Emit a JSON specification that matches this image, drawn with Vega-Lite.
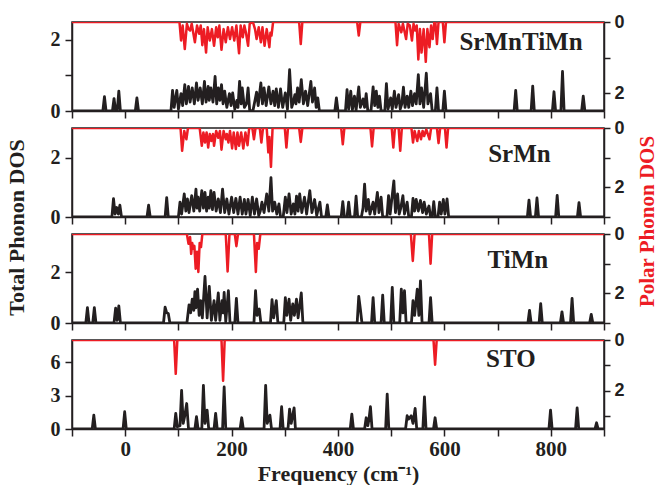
{
"$schema": "https://vega.github.io/schema/vega-lite/v6.json",
"background": "white",
"padding": {"left": 4, "top": 12, "right": 0, "bottom": 0},
"spacing": 17,
"bounds": "flush",
"config": {
  "view": {"stroke": "#231f20", "strokeWidth": 1.5},
  "axis": {"domainColor": "#231f20", "domainWidth": 1.5, "tickColor": "#231f20", "tickWidth": 1.5, "tickSize": 7, "grid": false,
    "labelFont": "Liberation Serif", "labelFontWeight": "bold", "labelFontSize": 20, "labelColor": "#231f20", "labelPadding": 5,
    "labelOverlap": false, "labelFlush": false, "labelBound": false,
    "titleFont": "Liberation Serif", "titleFontWeight": "bold", "titleFontSize": 22, "titleColor": "#231f20"},
  "line": {"strokeJoin": "round"}
},
"vconcat": [
{
  "width": 532, "height": 89,
  "resolve": {"scale": {"y": "independent"}},
  "layer": [
    {"layer": [
      {"data": {"values": [
        {"f":-100,"v":0},{"f":-42,"v":0},{"f":-39,"v":0.4},{"f":-36,"v":0},{"f":-24,"v":0},{"f":-21,"v":0.35},{"f":-18,"v":0},{"f":-15,"v":0},{"f":-12,"v":0.56},{"f":-9,"v":0},{"f":19,"v":0},{"f":22,"v":0.37},{"f":25,"v":0},
        {"f":86,"v":0},{"f":89,"v":0.58},{"f":92,"v":0.1},{"f":97,"v":0.58},{"f":100,"v":0.05},{"f":105,"v":0.49},{"f":108,"v":0.15},{"f":112,"v":0.74},{"f":115,"v":0.2},{"f":119,"v":0.69},{"f":122,"v":0.25},{"f":126,"v":0.65},{"f":130,"v":0.2},{"f":134,"v":0.79},{"f":137,"v":0.3},{"f":141,"v":0.65},{"f":145,"v":0.2},{"f":149,"v":0.83},{"f":152,"v":0.25},{"f":156,"v":0.69},{"f":158,"v":0.3},{"f":161,"v":0.65},{"f":165,"v":0.25},{"f":169,"v":0.97},{"f":172,"v":0.2},{"f":175,"v":0.65},{"f":178,"v":0.3},{"f":181,"v":0.74},{"f":184,"v":0.2},{"f":187,"v":0.56},{"f":191,"v":0.1},{"f":196,"v":0.49},{"f":199,"v":0.15},{"f":202,"v":0.51},{"f":206,"v":0.05},{"f":210,"v":0.3},{"f":212,"v":0.1},{"f":215,"v":0.83},{"f":218,"v":0.2},{"f":220,"v":0.65},{"f":224,"v":0.1},{"f":228,"v":0.2},{"f":231,"v":0.65},{"f":234,"v":0.02},{"f":240,"v":0},{"f":244,"v":0.3},{"f":247,"v":0.53},{"f":250,"v":0.15},{"f":255,"v":0.79},{"f":258,"v":0.2},{"f":261,"v":0.65},{"f":265,"v":0.15},{"f":270,"v":0.68},{"f":274,"v":0.2},{"f":278,"v":0.56},{"f":281,"v":0.15},{"f":284,"v":0.62},{"f":288,"v":0.1},{"f":292,"v":0.62},{"f":296,"v":0.1},{"f":301,"v":0.51},{"f":305,"v":0.05},{"f":309,"v":1.16},{"f":313,"v":0.1},{"f":316,"v":0.25},{"f":319,"v":0.46},{"f":321,"v":0.2},{"f":324,"v":0.65},{"f":327,"v":0.25},{"f":331,"v":0.88},{"f":335,"v":0.2},{"f":339,"v":0.56},{"f":343,"v":0.15},{"f":349,"v":0.83},{"f":352,"v":0.25},{"f":356,"v":0.65},{"f":359,"v":0.1},{"f":362,"v":0.37},{"f":365,"v":0},
        {"f":394,"v":0},{"f":397,"v":0.37},{"f":400,"v":0},
        {"f":414,"v":0},{"f":417,"v":0.6},{"f":420,"v":0.05},{"f":424,"v":0.56},{"f":427,"v":0.03},{"f":431,"v":0.42},{"f":434,"v":0.02},{"f":439,"v":0.68},{"f":442,"v":0.1},{"f":447,"v":0.34},{"f":450,"v":0.1},{"f":453,"v":0.49},{"f":456,"v":0},{"f":462,"v":0},{"f":466,"v":0.68},{"f":469,"v":0.15},{"f":472,"v":0.56},{"f":475,"v":0.1},{"f":478,"v":0.42},{"f":481,"v":0},{"f":488,"v":0},{"f":491,"v":0.77},{"f":494,"v":0.05},{"f":499,"v":0.37},{"f":502,"v":0.05},{"f":506,"v":0.56},{"f":509,"v":0.1},{"f":514,"v":0.46},{"f":517,"v":0.05},{"f":520,"v":0.2},{"f":523,"v":0.67},{"f":526,"v":0.1},{"f":530,"v":0.42},{"f":533,"v":0.1},{"f":537,"v":0.56},{"f":540,"v":0.15},{"f":544,"v":0.49},{"f":547,"v":0.2},{"f":551,"v":1.02},{"f":554,"v":0.2},{"f":557,"v":0.65},{"f":561,"v":0.1},{"f":566,"v":1.06},{"f":569,"v":0.2},{"f":574,"v":0.49},{"f":577,"v":0},{"f":583,"v":0},{"f":586,"v":0.65},{"f":589,"v":0},{"f":597,"v":0},{"f":600,"v":0.56},{"f":603,"v":0},
        {"f":731,"v":0},{"f":734,"v":0.58},{"f":737,"v":0},{"f":763,"v":0},{"f":766,"v":0.7},{"f":769,"v":0},{"f":803,"v":0},{"f":806,"v":0.54},{"f":809,"v":0},{"f":819,"v":0},{"f":822,"v":1.11},{"f":825,"v":0},{"f":858,"v":0},{"f":861,"v":0.42},{"f":864,"v":0},{"f":900,"v":0}
      ]},
      "mark": {"type": "line", "color": "#231f20", "strokeWidth": 2.8, "clip": true},
      "encoding": {
        "x": {"field": "f", "type": "quantitative", "scale": {"domain": [-100, 900], "nice": false, "zero": false}, "axis": {"values": [-100,0,100,200,300,400,500,600,700,800,900], "labels": false, "title": null}},
        "y": {"field": "v", "type": "quantitative", "scale": {"domain": [0, 2.5], "nice": false}, "axis": {"values": [0,1,2], "labelExpr": "datum.value === 0 || datum.value === 2 ? datum.label : ''", "title": null}}
      }},
      {"data": {"values": [{"name": "SrMnTiMn"}]},
       "mark": {"type": "text", "font": "Liberation Serif", "fontWeight": "bold", "fontSize": 25, "color": "#231f20", "align": "center", "baseline": "middle"},
       "encoding": {"x": {"datum": 744, "type": "quantitative"}, "y": {"datum": 1.94, "type": "quantitative"}, "text": {"field": "name"}}}
    ]},
    {"data": {"values": [
      {"f":-100,"v":0},{"f":102,"v":0},{"f":105,"v":0.52},{"f":108,"v":0.1},{"f":112,"v":0.76},{"f":116,"v":0.05},{"f":119,"v":0.2},{"f":122,"v":0.24},{"f":125,"v":0.05},{"f":131,"v":0.57},{"f":135,"v":0.1},{"f":139,"v":0.33},{"f":142,"v":0.1},{"f":145,"v":0.65},{"f":148,"v":0.2},{"f":152,"v":0.86},{"f":155,"v":0.15},{"f":159,"v":0.52},{"f":163,"v":0.2},{"f":167,"v":0.67},{"f":171,"v":0.15},{"f":174,"v":0.43},{"f":177,"v":0.1},{"f":181,"v":0.78},{"f":185,"v":0.2},{"f":189,"v":0.57},{"f":193,"v":0.15},{"f":197,"v":0.48},{"f":201,"v":0.15},{"f":205,"v":0.52},{"f":209,"v":0.1},{"f":214,"v":0.88},{"f":217,"v":0.1},{"f":221,"v":0.43},{"f":224,"v":0.1},{"f":227,"v":0.3},{"f":231,"v":0.67},{"f":234,"v":0.05},{"f":240,"v":0},{"f":244,"v":0.2},{"f":247,"v":0.48},{"f":251,"v":0.15},{"f":255,"v":0.57},{"f":258,"v":0.15},{"f":262,"v":0.67},{"f":266,"v":0.2},{"f":271,"v":0.71},{"f":273,"v":0.3},{"f":275,"v":0.38},{"f":278,"v":0},{"f":327,"v":0},{"f":330,"v":0.62},{"f":333,"v":0},{"f":436,"v":0},{"f":439,"v":0.38},{"f":442,"v":0},{"f":508,"v":0},{"f":511,"v":0.65},{"f":514,"v":0.05},{"f":519,"v":0.29},{"f":522,"v":0.05},{"f":528,"v":0.48},{"f":531,"v":0.05},{"f":535,"v":0.1},{"f":539,"v":0.52},{"f":542,"v":0.05},{"f":545,"v":0.24},{"f":548,"v":0.1},{"f":551,"v":1.05},{"f":554,"v":0.2},{"f":557,"v":0.86},{"f":561,"v":0.2},{"f":565,"v":1.12},{"f":568,"v":0.2},{"f":572,"v":0.71},{"f":575,"v":0.1},{"f":578,"v":0.48},{"f":581,"v":0},{"f":583,"v":0},{"f":586,"v":0.62},{"f":589,"v":0},{"f":597,"v":0},{"f":600,"v":0.57},{"f":603,"v":0},{"f":900,"v":0}
    ]},
    "mark": {"type": "line", "color": "#ed1c24", "strokeWidth": 2.5, "clip": true},
    "encoding": {
      "x": {"field": "f", "type": "quantitative", "scale": {"domain": [-100, 900], "nice": false, "zero": false}, "axis": {"values": [-100,0,100,200,300,400,500,600,700,800,900], "labels": false, "title": null}},
      "y": {"field": "v", "type": "quantitative", "scale": {"domain": [0, 2.5], "nice": false, "reverse": true}, "axis": {"orient": "right", "values": [0,1,2], "labelExpr": "datum.value === 0 || datum.value === 2 ? datum.label : ''", "title": null, "labelFont": "Liberation Sans", "labelFontSize": 18, "tickSize": 6, "labelPadding": 4}}
    }}
  ]
},
{
  "width": 532, "height": 89,
  "resolve": {"scale": {"y": "independent"}},
  "layer": [
    {"layer": [
      {"data": {"values": [
        {"f":-100,"v":0},{"f":-25,"v":0},{"f":-22,"v":0.62},{"f":-19,"v":0.1},{"f":-16,"v":0.32},{"f":-13,"v":0.1},{"f":-10,"v":0.4},{"f":-7,"v":0},{"f":41,"v":0},{"f":44,"v":0.4},{"f":47,"v":0},{"f":75,"v":0},{"f":78,"v":0.65},{"f":81,"v":0},
        {"f":100,"v":0},{"f":103,"v":0.5},{"f":106,"v":0.1},{"f":111,"v":0.78},{"f":114,"v":0.2},{"f":117,"v":0.61},{"f":120,"v":0.15},{"f":125,"v":0.72},{"f":129,"v":0.2},{"f":133,"v":0.94},{"f":135,"v":0.3},{"f":137,"v":0.67},{"f":140,"v":0.2},{"f":144,"v":0.89},{"f":147,"v":0.3},{"f":150,"v":0.83},{"f":153,"v":0.2},{"f":156,"v":0.67},{"f":158,"v":0.3},{"f":161,"v":0.89},{"f":164,"v":0.25},{"f":167,"v":0.83},{"f":171,"v":0.2},{"f":175,"v":0.61},{"f":179,"v":0.15},{"f":183,"v":0.94},{"f":187,"v":0.15},{"f":191,"v":0.61},{"f":195,"v":0.1},{"f":200,"v":0.67},{"f":204,"v":0.15},{"f":208,"v":0.63},{"f":212,"v":0.1},{"f":216,"v":0.67},{"f":220,"v":0.1},{"f":224,"v":0.59},{"f":227,"v":0.1},{"f":231,"v":0.59},{"f":235,"v":0.05},{"f":239,"v":0.67},{"f":243,"v":0.1},{"f":247,"v":0.61},{"f":251,"v":0.05},{"f":254,"v":0.2},{"f":257,"v":0.5},{"f":261,"v":0.15},{"f":266,"v":0.78},{"f":270,"v":0.2},{"f":274,"v":1.33},{"f":277,"v":0.2},{"f":281,"v":0.5},{"f":285,"v":0.1},{"f":289,"v":0.44},{"f":292,"v":0},{"f":297,"v":0},{"f":301,"v":0.67},{"f":304,"v":0.15},{"f":308,"v":0.78},{"f":312,"v":0.1},{"f":316,"v":0.44},{"f":319,"v":0.1},{"f":322,"v":0.7},{"f":325,"v":0.2},{"f":328,"v":0.78},{"f":332,"v":0.15},{"f":337,"v":0.67},{"f":341,"v":0.1},{"f":347,"v":0.89},{"f":351,"v":0.15},{"f":356,"v":0.59},{"f":360,"v":0.05},{"f":366,"v":0.5},{"f":369,"v":0},{"f":377,"v":0},{"f":380,"v":0.41},{"f":383,"v":0},
        {"f":406,"v":0},{"f":409,"v":0.52},{"f":412,"v":0},{"f":417,"v":0},{"f":420,"v":0.5},{"f":423,"v":0},{"f":431,"v":0},{"f":434,"v":0.7},{"f":437,"v":0},{"f":444,"v":0},{"f":447,"v":0.3},{"f":450,"v":1.11},{"f":453,"v":0.2},{"f":457,"v":0.59},{"f":460,"v":0.1},{"f":466,"v":0.5},{"f":469,"v":0.1},{"f":474,"v":0.83},{"f":477,"v":0.15},{"f":481,"v":0.67},{"f":484,"v":0},{"f":492,"v":0},{"f":495,"v":0.72},{"f":498,"v":0.1},{"f":505,"v":1.22},{"f":508,"v":0.15},{"f":512,"v":0.78},{"f":515,"v":0.1},{"f":518,"v":0.3},{"f":522,"v":0.72},{"f":525,"v":0.1},{"f":530,"v":0.5},{"f":533,"v":0},{"f":538,"v":0},{"f":541,"v":0.63},{"f":544,"v":0.2},{"f":547,"v":0.59},{"f":551,"v":0.2},{"f":555,"v":0.56},{"f":559,"v":0.15},{"f":562,"v":0.5},{"f":566,"v":0.1},{"f":571,"v":0.37},{"f":574,"v":0},{"f":577,"v":0},{"f":580,"v":0.52},{"f":583,"v":0},{"f":588,"v":0},{"f":591,"v":0.5},{"f":594,"v":0.1},{"f":598,"v":0.59},{"f":601,"v":0.1},{"f":605,"v":0.61},{"f":608,"v":0},
        {"f":756,"v":0},{"f":759,"v":0.57},{"f":762,"v":0},{"f":771,"v":0},{"f":774,"v":0.64},{"f":777,"v":0},{"f":809,"v":0},{"f":812,"v":0.73},{"f":815,"v":0},{"f":850,"v":0},{"f":853,"v":0.48},{"f":856,"v":0},{"f":900,"v":0}
      ]},
      "mark": {"type": "line", "color": "#231f20", "strokeWidth": 2.8, "clip": true},
      "encoding": {
        "x": {"field": "f", "type": "quantitative", "scale": {"domain": [-100, 900], "nice": false, "zero": false}, "axis": {"values": [-100,0,100,200,300,400,500,600,700,800,900], "labels": false, "title": null}},
        "y": {"field": "v", "type": "quantitative", "scale": {"domain": [0, 3], "nice": false}, "axis": {"values": [0,2], "title": "Total Phonon DOS", "titleY": 99, "titleX": -44}}
      }},
      {"data": {"values": [{"name": "SrMn"}]},
       "mark": {"type": "text", "font": "Liberation Serif", "fontWeight": "bold", "fontSize": 25, "color": "#231f20", "align": "center", "baseline": "middle"},
       "encoding": {"x": {"datum": 741, "type": "quantitative"}, "y": {"datum": 2.13, "type": "quantitative"}, "text": {"field": "name"}}}
    ]},
    {"data": {"values": [
      {"f":-100,"v":0},{"f":104,"v":0},{"f":107,"v":0.77},{"f":111,"v":0.1},{"f":115,"v":0.38},{"f":118,"v":0},{"f":140,"v":0},{"f":144,"v":0.6},{"f":147,"v":0.15},{"f":150,"v":0.49},{"f":153,"v":0.15},{"f":156,"v":0.66},{"f":159,"v":0.2},{"f":162,"v":0.44},{"f":165,"v":0.2},{"f":167,"v":0.6},{"f":171,"v":0.1},{"f":175,"v":0.33},{"f":178,"v":0.1},{"f":181,"v":0.73},{"f":185,"v":0.1},{"f":189,"v":0.38},{"f":191,"v":0.2},{"f":194,"v":0.49},{"f":197,"v":0.1},{"f":201,"v":0.69},{"f":204,"v":0.15},{"f":208,"v":0.71},{"f":211,"v":0.15},{"f":214,"v":0.6},{"f":218,"v":0.15},{"f":222,"v":0.69},{"f":226,"v":0.15},{"f":230,"v":0.58},{"f":233,"v":0},{"f":239,"v":0},{"f":242,"v":0.38},{"f":245,"v":0},{"f":253,"v":0},{"f":256,"v":0.49},{"f":259,"v":0},{"f":266,"v":0},{"f":269,"v":0.82},{"f":271,"v":0.3},{"f":274,"v":1.31},{"f":277,"v":0},{"f":300,"v":0},{"f":303,"v":0.66},{"f":306,"v":0},{"f":327,"v":0},{"f":330,"v":0.47},{"f":333,"v":0},{"f":406,"v":0},{"f":409,"v":0.55},{"f":412,"v":0},{"f":461,"v":0},{"f":464,"v":0.62},{"f":467,"v":0},{"f":501,"v":0},{"f":504,"v":0.66},{"f":507,"v":0},{"f":514,"v":0},{"f":517,"v":0.77},{"f":520,"v":0},{"f":538,"v":0},{"f":541,"v":0.49},{"f":544,"v":0.1},{"f":549,"v":0.44},{"f":552,"v":0.1},{"f":556,"v":0.38},{"f":559,"v":0.1},{"f":562,"v":0.27},{"f":566,"v":0.05},{"f":572,"v":0.38},{"f":575,"v":0},{"f":586,"v":0},{"f":589,"v":0.51},{"f":592,"v":0},{"f":601,"v":0},{"f":604,"v":0.66},{"f":607,"v":0},{"f":900,"v":0}
    ]},
    "mark": {"type": "line", "color": "#ed1c24", "strokeWidth": 2.5, "clip": true},
    "encoding": {
      "x": {"field": "f", "type": "quantitative", "scale": {"domain": [-100, 900], "nice": false, "zero": false}, "axis": {"values": [-100,0,100,200,300,400,500,600,700,800,900], "labels": false, "title": null}},
      "y": {"field": "v", "type": "quantitative", "scale": {"domain": [0, 3], "nice": false, "reverse": true}, "axis": {"orient": "right", "values": [0,1,2,3], "labelExpr": "datum.value === 0 || datum.value === 2 ? datum.label : ''", "title": "Polar Phonon DOS", "titleColor": "#ed1c24", "titleY": 93, "titleAngle": 270, "titleBaseline": "top", "titleFontSize": 21, "titlePadding": 12, "labelFont": "Liberation Sans", "labelFontSize": 18, "tickSize": 6, "labelPadding": 4}}
    }}
  ]
},
{
  "width": 532, "height": 89,
  "resolve": {"scale": {"y": "independent"}},
  "layer": [
    {"layer": [
      {"data": {"values": [
        {"f":-100,"v":0},{"f":-74,"v":0},{"f":-71,"v":0.6},{"f":-68,"v":0},{"f":-61,"v":0},{"f":-58,"v":0.6},{"f":-55,"v":0},{"f":-21,"v":0},{"f":-18,"v":0.58},{"f":-15,"v":0.1},{"f":-12,"v":0.67},{"f":-9,"v":0},{"f":72,"v":0},{"f":75,"v":0.62},{"f":78,"v":0.4},{"f":81,"v":0.37},{"f":84,"v":0},
        {"f":116,"v":0},{"f":120,"v":0.71},{"f":123,"v":0.4},{"f":126,"v":0.94},{"f":129,"v":0.5},{"f":131,"v":1.23},{"f":133,"v":0.6},{"f":136,"v":1.33},{"f":139,"v":0.3},{"f":142,"v":0.88},{"f":145,"v":0.2},{"f":150,"v":1.83},{"f":154,"v":0.2},{"f":158,"v":1.44},{"f":162,"v":0.1},{"f":167,"v":0.88},{"f":170,"v":0.1},{"f":175,"v":1.18},{"f":178,"v":0.1},{"f":182,"v":0.88},{"f":184,"v":0.4},{"f":186,"v":1.2},{"f":189,"v":0.05},{"f":194,"v":1.27},{"f":197,"v":0},{"f":206,"v":0},{"f":209,"v":0.97},{"f":212,"v":0},{"f":242,"v":0},{"f":245,"v":1.27},{"f":248,"v":0.3},{"f":252,"v":0.55},{"f":255,"v":0},{"f":273,"v":0},{"f":276,"v":0.92},{"f":279,"v":0.2},{"f":284,"v":0.88},{"f":287,"v":0},{"f":298,"v":0},{"f":301,"v":1.0},{"f":304,"v":0.3},{"f":308,"v":0.94},{"f":311,"v":0.1},{"f":315,"v":0.75},{"f":318,"v":0.3},{"f":322,"v":0.94},{"f":325,"v":0.2},{"f":331,"v":1.18},{"f":334,"v":0},
        {"f":436,"v":0},{"f":439,"v":1.05},{"f":442,"v":0.55},{"f":445,"v":0},{"f":463,"v":0},{"f":466,"v":1.0},{"f":469,"v":0},{"f":481,"v":0},{"f":484,"v":1.1},{"f":487,"v":0},{"f":499,"v":0},{"f":502,"v":1.4},{"f":505,"v":0},{"f":516,"v":0},{"f":519,"v":1.33},{"f":522,"v":0.4},{"f":525,"v":1.27},{"f":528,"v":0},{"f":538,"v":0},{"f":541,"v":0.88},{"f":544,"v":0.3},{"f":549,"v":1.33},{"f":552,"v":0.3},{"f":555,"v":1.66},{"f":558,"v":0},{"f":571,"v":0},{"f":574,"v":1.0},{"f":577,"v":0},
        {"f":757,"v":0},{"f":760,"v":0.5},{"f":763,"v":0},{"f":778,"v":0},{"f":781,"v":0.76},{"f":784,"v":0},{"f":818,"v":0},{"f":821,"v":0.44},{"f":824,"v":0},{"f":837,"v":0},{"f":840,"v":0.97},{"f":843,"v":0},{"f":873,"v":0},{"f":876,"v":0.34},{"f":879,"v":0},{"f":900,"v":0}
      ]},
      "mark": {"type": "line", "color": "#231f20", "strokeWidth": 2.8, "clip": true},
      "encoding": {
        "x": {"field": "f", "type": "quantitative", "scale": {"domain": [-100, 900], "nice": false, "zero": false}, "axis": {"values": [-100,0,100,200,300,400,500,600,700,800,900], "labels": false, "title": null}},
        "y": {"field": "v", "type": "quantitative", "scale": {"domain": [0, 3.5], "nice": false}, "axis": {"values": [0,2], "title": null}}
      }},
      {"data": {"values": [{"name": "TiMn"}]},
       "mark": {"type": "text", "font": "Liberation Serif", "fontWeight": "bold", "fontSize": 25, "color": "#231f20", "align": "center", "baseline": "middle"},
       "encoding": {"x": {"datum": 738, "type": "quantitative"}, "y": {"datum": 2.47, "type": "quantitative"}, "text": {"field": "name"}}}
    ]},
    {"data": {"values": [
      {"f":-100,"v":0},{"f":116,"v":0},{"f":119,"v":0.33},{"f":122,"v":0.1},{"f":124,"v":0.67},{"f":126,"v":0.3},{"f":128,"v":0.5},{"f":130,"v":0.4},{"f":132.5,"v":1.17},{"f":135,"v":0.6},{"f":137.5,"v":1.28},{"f":140,"v":0.3},{"f":142.5,"v":0.44},{"f":145,"v":0},{"f":189,"v":0},{"f":192.5,"v":1.26},{"f":196,"v":0},{"f":206,"v":0},{"f":209,"v":0.41},{"f":212,"v":0},{"f":242,"v":0},{"f":245.6,"v":1.28},{"f":248,"v":0.3},{"f":251,"v":0.5},{"f":254,"v":0},{"f":537,"v":0},{"f":540.6,"v":0.91},{"f":544,"v":0},{"f":571,"v":0},{"f":574,"v":1.0},{"f":577,"v":0},{"f":900,"v":0}
    ]},
    "mark": {"type": "line", "color": "#ed1c24", "strokeWidth": 2.5, "clip": true},
    "encoding": {
      "x": {"field": "f", "type": "quantitative", "scale": {"domain": [-100, 900], "nice": false, "zero": false}, "axis": {"values": [-100,0,100,200,300,400,500,600,700,800,900], "labels": false, "title": null}},
      "y": {"field": "v", "type": "quantitative", "scale": {"domain": [0, 3], "nice": false, "reverse": true}, "axis": {"orient": "right", "values": [0,1,2,3], "labelExpr": "datum.value === 0 || datum.value === 2 ? datum.label : ''", "title": null, "labelFont": "Liberation Sans", "labelFontSize": 18, "tickSize": 6, "labelPadding": 4}}
    }}
  ]
},
{
  "width": 532, "height": 89,
  "resolve": {"scale": {"y": "independent"}},
  "layer": [
    {"layer": [
      {"data": {"values": [
        {"f":-100,"v":0},{"f":-62,"v":0},{"f":-59,"v":1.25},{"f":-56,"v":0},{"f":-4,"v":0},{"f":-1,"v":1.55},{"f":2,"v":0},{"f":92,"v":0},{"f":95,"v":1.4},{"f":98,"v":0.2},{"f":103,"v":0.3},{"f":106,"v":3.48},{"f":109,"v":0.5},{"f":112,"v":1.2},{"f":115.6,"v":2.29},{"f":119,"v":0},{"f":131,"v":0},{"f":134,"v":1.1},{"f":137,"v":0},{"f":144,"v":0},{"f":147,"v":3.93},{"f":150,"v":0.5},{"f":154,"v":1.7},{"f":157,"v":0},{"f":167,"v":0},{"f":170,"v":1.4},{"f":173,"v":0},{"f":183,"v":0},{"f":186,"v":3.78},{"f":189,"v":0},{"f":216,"v":0},{"f":219,"v":1.01},{"f":222,"v":0},{"f":261,"v":0},{"f":264,"v":3.93},{"f":267,"v":0.5},{"f":272,"v":1.25},{"f":275,"v":0},{"f":291,"v":0},{"f":294,"v":2.0},{"f":297,"v":0},{"f":306,"v":0},{"f":309,"v":1.79},{"f":312,"v":0.5},{"f":314,"v":1.0},{"f":317.5,"v":1.9},{"f":320,"v":0},{"f":423,"v":0},{"f":426,"v":1.34},{"f":429,"v":0},{"f":450,"v":0},{"f":453,"v":1.01},{"f":456,"v":0.3},{"f":458,"v":0.8},{"f":461,"v":2.0},{"f":464,"v":0},{"f":489.5,"v":0},{"f":492.5,"v":3.13},{"f":495.5,"v":0},{"f":527,"v":0},{"f":530,"v":1.19},{"f":533,"v":0.9},{"f":537.5,"v":1.19},{"f":541,"v":0.5},{"f":545,"v":1.85},{"f":548,"v":0},{"f":559.5,"v":0},{"f":562.5,"v":2.89},{"f":565.5,"v":0},{"f":579.5,"v":0},{"f":582.5,"v":1.01},{"f":585.5,"v":0},{"f":796.5,"v":0},{"f":799.5,"v":1.7},{"f":802.5,"v":0},{"f":846.5,"v":0},{"f":849.5,"v":1.9},{"f":852.5,"v":0},{"f":883,"v":0},{"f":886,"v":0.56},{"f":889,"v":0},{"f":900,"v":0}
      ]},
      "mark": {"type": "line", "color": "#231f20", "strokeWidth": 2.8, "clip": true},
      "encoding": {
        "x": {"field": "f", "type": "quantitative", "scale": {"domain": [-100, 900], "nice": false, "zero": false}, "axis": {"values": [-100,0,100,200,300,400,500,600,700,800,900], "labelExpr": "datum.value % 200 === 0 ? datum.label : ''", "title": "Frequency (cm⁻¹)", "labelFontSize": 21, "labelPadding": 2, "titlePadding": 4}},
        "y": {"field": "v", "type": "quantitative", "scale": {"domain": [0, 8], "nice": false}, "axis": {"values": [0,1.5,3,4.5,6,7.5], "labelExpr": "datum.value % 3 === 0 ? datum.label : ''", "title": null}}
      }},
      {"data": {"values": [{"name": "STO"}]},
       "mark": {"type": "text", "font": "Liberation Serif", "fontWeight": "bold", "fontSize": 25, "color": "#231f20", "align": "center", "baseline": "middle"},
       "encoding": {"x": {"datum": 725, "type": "quantitative"}, "y": {"datum": 6.3, "type": "quantitative"}, "text": {"field": "name"}}}
    ]},
    {"data": {"values": [
      {"f":-100,"v":0},{"f":92,"v":0},{"f":95,"v":1.33},{"f":98,"v":0},{"f":181,"v":0},{"f":184,"v":1.6},{"f":187,"v":0},{"f":579.5,"v":0},{"f":582.5,"v":0.97},{"f":585.5,"v":0},{"f":900,"v":0}
    ]},
    "mark": {"type": "line", "color": "#ed1c24", "strokeWidth": 2.5, "clip": true},
    "encoding": {
      "x": {"field": "f", "type": "quantitative", "scale": {"domain": [-100, 900], "nice": false, "zero": false}, "axis": {"values": [-100,0,100,200,300,400,500,600,700,800,900], "labelExpr": "datum.value % 200 === 0 ? datum.label : ''", "title": "Frequency (cm⁻¹)", "labelFontSize": 21, "labelPadding": 2, "titlePadding": 4}},
      "y": {"field": "v", "type": "quantitative", "scale": {"domain": [0, 3.5], "nice": false, "reverse": true}, "axis": {"orient": "right", "values": [0,1,2,3], "labelExpr": "datum.value === 0 || datum.value === 2 ? datum.label : ''", "title": null, "labelFont": "Liberation Sans", "labelFontSize": 18, "tickSize": 6, "labelPadding": 4}}
    }}
  ]
}
]
}
